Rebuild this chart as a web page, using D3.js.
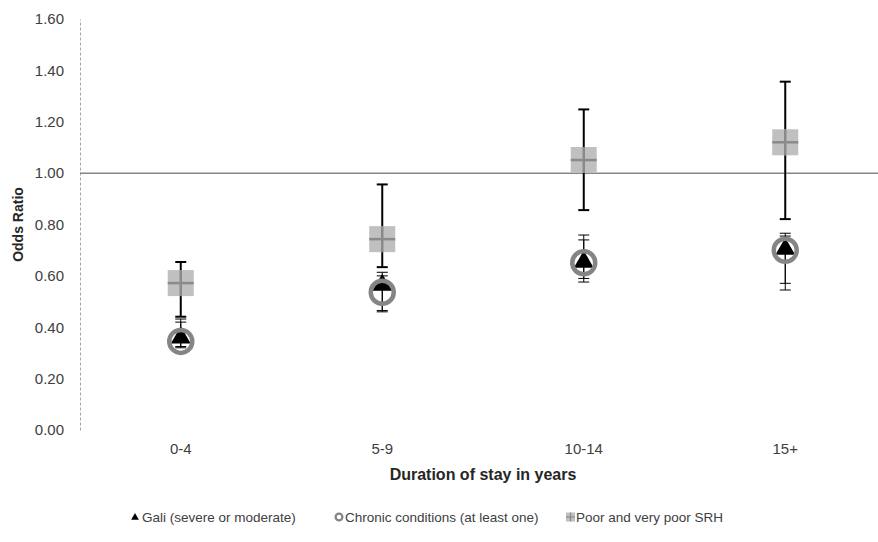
<!DOCTYPE html>
<html>
<head>
<meta charset="utf-8">
<script src="https://cdn.jsdelivr.net/npm/d3@7"></script>
<style>
  html, body { margin: 0; padding: 0; background: #ffffff; }
  svg { display: block; font-family: "Liberation Sans", Arial, sans-serif; }
</style>
</head>
<body>
<svg id="chart" width="878" height="542"></svg>
<script>
// Duration-of-stay groups
const categories = ["0-4", "5-9", "10-14", "15+"];

// Odds ratios with 95% confidence limits
const gali        = [0.365, 0.570, 0.660, 0.710];
const galiLow     = [0.320, 0.460, 0.576, 0.545];
const galiHigh    = [0.432, 0.614, 0.740, 0.766];

const chronic     = [0.345, 0.536, 0.651, 0.700];
const chronicLow  = [0.325, 0.465, 0.590, 0.571];
const chronicHigh = [0.420, 0.600, 0.759, 0.755];

const srh         = [0.572, 0.743, 1.051, 1.120];
const srhLow      = [0.441, 0.634, 0.856, 0.821];
const srhHigh     = [0.654, 0.956, 1.248, 1.356];

const yTicks = [0, 0.2, 0.4, 0.6, 0.8, 1.0, 1.2, 1.4, 1.6];
const referenceValue = 1.0;

const legendLabels = ["Gali (severe or moderate)", "Chronic conditions (at least one)", "Poor and very poor SRH"];

const svg = d3.select("#chart");
const plotLeft = 80, plotRight = 886, plotTop = 19, plotBottom = 430;
const fontFamily = "'Liberation Sans', Arial, sans-serif";

const x = d3.scaleBand().domain(categories).range([plotLeft, plotRight]).padding(0);
const y = d3.scaleLinear().domain([0, 1.6]).range([plotBottom, plotTop]);
const cx = c => x(c) + x.bandwidth() / 2;

// Y axis: dashed line with labels, no tick marks
const yAxis = d3.axisLeft(y).tickValues(yTicks).tickFormat(d3.format(".2f")).tickSize(0).tickPadding(16);
const gy = svg.append("g").attr("transform", `translate(${plotLeft},0)`).call(yAxis);
gy.select(".domain").attr("stroke", "#a6a6a6").attr("stroke-width", 1).attr("stroke-dasharray", "3,2");
gy.selectAll("text").attr("font-size", 15).attr("fill", "#404040").attr("font-family", fontFamily);

// X axis labels only
const xAxis = d3.axisBottom(x).tickSize(0).tickPadding(13);
const gx = svg.append("g").attr("transform", `translate(0,${plotBottom})`).call(xAxis);
gx.select(".domain").remove();
gx.selectAll("text").attr("font-size", 15).attr("fill", "#404040").attr("font-family", fontFamily);

// Reference line at OR = 1
svg.append("line")
  .attr("x1", plotLeft).attr("x2", 878)
  .attr("y1", y(referenceValue)).attr("y2", y(referenceValue))
  .attr("stroke", "#868686").attr("stroke-width", 1.5);

// Axis titles
svg.append("text")
  .attr("transform", `translate(23,${(plotTop + plotBottom) / 2}) rotate(-90)`)
  .attr("text-anchor", "middle")
  .attr("font-size", 14).attr("font-weight", "bold").attr("fill", "#262626")
  .text("Odds Ratio");
svg.append("text")
  .attr("x", (plotLeft + plotRight) / 2).attr("y", 480)
  .attr("text-anchor", "middle")
  .attr("font-size", 16).attr("font-weight", "bold").attr("fill", "#262626")
  .text("Duration of stay in years");

// Error bars
function errorBars(lows, highs, width, capHalf) {
  const g = svg.append("g");
  categories.forEach((c, i) => {
    const xc = cx(c);
    g.append("line").attr("x1", xc).attr("x2", xc)
      .attr("y1", y(lows[i])).attr("y2", y(highs[i]))
      .attr("stroke", "#000").attr("stroke-width", width);
    [lows[i], highs[i]].forEach(v => {
      g.append("line").attr("x1", xc - capHalf).attr("x2", xc + capHalf)
        .attr("y1", y(v)).attr("y2", y(v))
        .attr("stroke", "#000").attr("stroke-width", width);
    });
  });
}
errorBars(galiLow, galiHigh, 1, 5.5);
errorBars(chronicLow, chronicHigh, 1, 5.5);
errorBars(srhLow, srhHigh, 2, 5.5);

// Gali: black triangles
const tri = d3.symbol().type(d3.symbolTriangle).size(170);
svg.append("g").selectAll("path").data(gali).join("path")
  .attr("d", tri)
  .attr("transform", (d, i) => `translate(${cx(categories[i])},${y(d) + 1.5})`)
  .attr("fill", "#000");

// Chronic conditions: grey rings
svg.append("g").selectAll("circle").data(chronic).join("circle")
  .attr("cx", (d, i) => cx(categories[i])).attr("cy", d => y(d))
  .attr("r", 11.5)
  .attr("fill", "none").attr("stroke", "#858585").attr("stroke-width", 4.5);

// Poor SRH: light grey squares with a plus
const sq = 26;
const gs = svg.append("g");
srh.forEach((v, i) => {
  const xc = cx(categories[i]), yc = y(v);
  gs.append("rect").attr("x", xc - sq / 2).attr("y", yc - sq / 2)
    .attr("width", sq).attr("height", sq).attr("fill", "#c0c0c0");
  gs.append("line").attr("x1", xc - sq / 2).attr("x2", xc + sq / 2)
    .attr("y1", yc).attr("y2", yc).attr("stroke", "#8a8a8a").attr("stroke-width", 2.5);
  gs.append("line").attr("x1", xc).attr("x2", xc)
    .attr("y1", yc - sq / 2).attr("y2", yc + sq / 2).attr("stroke", "#8a8a8a").attr("stroke-width", 2.5);
});

// Legend
const legendX = [130, 333, 564];
const ly = 522;
const lg = svg.append("g");
lg.append("path").attr("d", d3.symbol().type(d3.symbolTriangle).size(26))
  .attr("transform", `translate(${legendX[0] + 5},${ly - 4.5})`).attr("fill", "#000");
lg.append("circle").attr("cx", legendX[1] + 6).attr("cy", ly - 5).attr("r", 3.4)
  .attr("fill", "none").attr("stroke", "#858585").attr("stroke-width", 2.3);
lg.append("rect").attr("x", legendX[2] + 2).attr("y", ly - 9.5).attr("width", 9).attr("height", 9).attr("fill", "#c0c0c0");
lg.append("line").attr("x1", legendX[2] + 2).attr("x2", legendX[2] + 11).attr("y1", ly - 5).attr("y2", ly - 5)
  .attr("stroke", "#8a8a8a").attr("stroke-width", 1.2);
lg.append("line").attr("x1", legendX[2] + 6.5).attr("x2", legendX[2] + 6.5).attr("y1", ly - 9.5).attr("y2", ly - 0.5)
  .attr("stroke", "#8a8a8a").attr("stroke-width", 1.2);
legendLabels.forEach((t, i) => {
  lg.append("text").attr("x", legendX[i] + 12).attr("y", ly)
    .attr("font-size", 13.5).attr("fill", "#404040").text(t);
});
</script>
</body>
</html>
